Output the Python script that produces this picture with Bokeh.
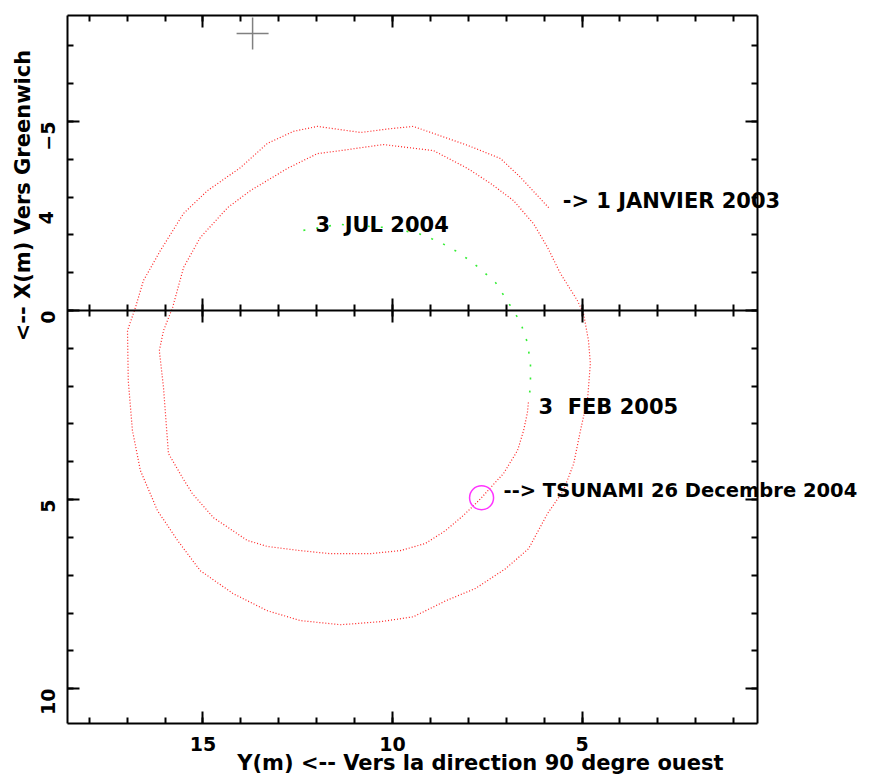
import math
from bokeh.plotting import figure
from bokeh.models import Range1d, LinearAxis, FixedTicker, Label
from bokeh.embed import file_html
from bokeh.resources import INLINE

# ---- data (Y(m) horizontal, X(m) vertical) ----
pole_y = [5.88, 6.62, 7.15, 8.02, 9.45, 10.05, 10.84, 11.98, 12.61, 13.30,
          14.01, 14.88, 15.51, 16.12, 16.57, 16.78, 16.99, 16.97, 16.86, 16.65,
          16.20, 15.67, 15.07, 14.20, 13.30, 12.43, 11.37, 10.32, 9.45, 8.58,
          7.81, 7.02, 6.41, 5.91, 5.49, 5.22, 5.04, 4.85, 4.78, 4.83,
          4.96, 5.12,
          5.57, 5.91, 6.28, 6.81, 7.41, 8.02, 8.92, 10.24, 11.37, 11.98,
          12.77, 13.75, 14.35, 15.07, 15.51, 15.80, 16.04, 16.15, 16.04, 15.91,
          15.54, 15.28, 14.72, 13.83, 13.30, 12.43, 11.64, 10.58, 9.79, 9.13,
          8.60, 8.13, 7.81, 7.65, 7.41, 7.07, 6.70, 6.54, 6.44, 6.41]
pole_x = [-2.72, -3.52, -4.02, -4.37, -4.87, -4.81, -4.71, -4.87, -4.74, -4.42,
          -3.78, -3.17, -2.57, -1.59, -0.79, -0.08, 0.53, 1.85, 3.17, 4.23,
          5.29, 6.08, 6.88, 7.49, 7.94, 8.20, 8.31, 8.23, 8.10, 7.67,
          7.35, 6.83, 6.30, 5.37, 4.76, 4.05, 3.17, 2.30, 1.40, 0.79,
          0.08, -0.26,
          -0.98, -1.67, -2.30, -2.91, -3.36, -3.76, -4.23, -4.39, -4.23, -4.15,
          -3.76, -3.17, -2.72, -1.93, -1.14, -0.08, 0.53, 1.06, 2.04, 3.78,
          4.42, 4.84, 5.48, 6.08, 6.24, 6.35, 6.43, 6.43, 6.35, 6.16,
          5.82, 5.42, 5.11, 4.95, 4.68, 4.31, 3.70, 3.17, 2.70, 2.38]

arc_y = [12.35, 11.42, 10.24, 9.31, 8.73, 8.21, 7.73, 7.28, 6.81, 6.62, 6.44, 6.36, 6.36, 6.41]
arc_x = [-2.12, -2.28, -2.20, -2.04, -1.80, -1.51, -1.14, -0.74, 0.00, 0.32, 0.85, 1.40, 2.04, 2.33]

tsunami_y = [7.65]
tsunami_x = [4.95]
cross_y = [13.69]
cross_x = [-7.33]

x_major = [5, 10, 15]
x_minor = list(range(1, 19))
y_major = [-5, 0, 5, 10]
y_minor = list(range(-7, 11))

# axis box limits (data units)
X_LEFT, X_RIGHT = 18.58, 0.37
Y_BOTTOM, Y_TOP = 10.93, -7.80
# whole canvas extent (data units) so that texts outside the box are not clipped
CX_START, CX_END = 20.34, -2.61
CY_BOTTOM, CY_TOP = 12.43, -8.20

FONT = "DejaVu Sans"

p = figure(width=870, height=780, output_backend="svg", toolbar_location=None,
           title=None, x_axis_location=None, y_axis_location=None,
           x_range=Range1d(CX_START, CX_END), y_range=Range1d(CY_BOTTOM, CY_TOP),
           min_border=0, min_border_left=0, min_border_right=0,
           min_border_top=0, min_border_bottom=0,
           background_fill_color="white", border_fill_color="white")
p.grid.visible = False
p.outline_line_color = None


def make_axis(loc, ticks, minor, bounds, inn=12, out=0, minn=6, mout=0,
              labels=True, standoff=12):
    ax = LinearAxis(fixed_location=loc, bounds=bounds)
    ax.ticker = FixedTicker(ticks=ticks, minor_ticks=minor)
    ax.axis_line_color = "black"
    ax.axis_line_width = 2
    ax.major_tick_line_color = "black"
    ax.major_tick_line_width = 2
    ax.minor_tick_line_color = "black"
    ax.minor_tick_line_width = 2
    ax.major_tick_in = inn
    ax.major_tick_out = out
    ax.minor_tick_in = minn
    ax.minor_tick_out = mout
    ax.major_label_text_font = FONT
    ax.major_label_text_font_style = "bold"
    ax.major_label_text_font_size = "19px"
    ax.major_label_text_color = "black"
    ax.major_label_standoff = standoff
    if not labels:
        ax.major_label_overrides = {t: "" for t in ticks}
    return ax


xb = (X_RIGHT, X_LEFT)
yb = (Y_TOP, Y_BOTTOM)

bottom_ax = make_axis(Y_BOTTOM, x_major, x_minor, xb, standoff=13)
p.add_layout(bottom_ax, "below")

left_ax = make_axis(X_LEFT, y_major, y_minor, yb, standoff=19)
left_ax.major_label_orientation = math.pi / 2
p.add_layout(left_ax, "left")

top_ax = make_axis(Y_TOP, x_major, x_minor, xb, labels=False)
p.add_layout(top_ax, "above")

right_ax = make_axis(X_RIGHT, y_major, y_minor, yb, labels=False)
p.add_layout(right_ax, "right")

mid_ax = make_axis(0, x_major, x_minor, xb, inn=12, out=12, minn=6, mout=6, labels=False)
p.add_layout(mid_ax, "below")

# curves
p.line(pole_y, pole_x, line_color="#ff2020", line_width=1.2, line_dash="1 2")
p.line(arc_y, arc_x, line_color="#33ee33", line_width=1.6, line_dash="2 11")
p.scatter(tsunami_y, tsunami_x, marker="circle", size=24, fill_color=None,
          line_color="#ff33ff", line_width=1.5)
p.scatter(cross_y, cross_x, marker="cross", size=32, line_color="#808080", line_width=1.5)


def lab(x, y, text, align="left", angle=0.0, baseline="middle", size="21px"):
    p.add_layout(Label(x=x, y=y, text=text, text_font=FONT, text_font_style="bold",
                       text_font_size=size, text_color="black", text_align=align,
                       text_baseline=baseline, angle=angle))


NB = "\u00a0"
lab(5.51, -2.91, "-> 1 JANVIER 2003")
lab(12.03, -2.25, "3" + NB + " JUL 2004")
lab(6.15, 2.54, "3" + NB + " FEB 2005")
lab(7.07, 4.76, "--> TSUNAMI 26 Decembre 2004", size="19.5px")
lab(19.13, -2.46, "4", align="center", angle=math.pi / 2, size="19px")
lab(7.68, 11.98, "Y(m) <-- Vers la direction 90 degre ouest", align="center", baseline="middle")
lab(19.74, -3.04, "<-- X(m) Vers Greenwich", align="center", angle=math.pi / 2)

open("out.html", "w").write(file_html(p, INLINE))
